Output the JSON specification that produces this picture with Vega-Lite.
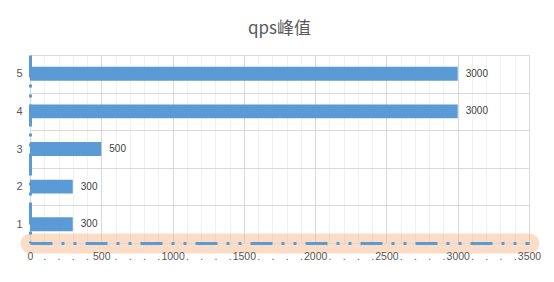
{
  "$schema": "https://vega.github.io/schema/vega-lite/v6.json",
  "width": 499,
  "height": 188,
  "autosize": {"type": "none"},
  "padding": {"left": 30, "top": 55, "right": 25, "bottom": 39},
  "background": "white",
  "title": {"text": "qps峰值", "fontSize": 17, "font": "Noto Sans CJK SC", "fontWeight": "normal", "color": "#595959", "offset": 11, "anchor": "middle"},
  "data": {"values": [
    {"cat": "1", "value": 300},
    {"cat": "2", "value": 300},
    {"cat": "3", "value": 500},
    {"cat": "4", "value": 3000},
    {"cat": "5", "value": 3000}
  ]},
  "config": {"view": {"stroke": null}},
  "layer": [
    {
      "mark": {"type": "bar", "color": "#5b9bd5", "height": {"band": 0.37}},
      "encoding": {
        "y": {"field": "cat", "type": "ordinal", "sort": "descending",
              "scale": {"paddingInner": 0, "paddingOuter": 0},
              "axis": {"title": null, "ticks": false, "tickBand": "extent", "grid": true, "gridColor": "#d9d9d9", "gridWidth": 1,
                       "domain": true, "domainColor": "#5b9bd5", "domainWidth": 3, "domainDash": [22, 7, 3, 7, 3, 7],
                       "labelFont": "Liberation Sans", "labelFontSize": 11, "labelColor": "#595959", "labelPadding": 8, "labelAngle": 0, "zindex": 1}},
        "x": {"field": "value", "type": "quantitative", "scale": {"domain": [0, 3500], "nice": false},
              "axis": {"orient": "bottom", "title": null, "labels": false, "ticks": false,
                       "values": [0,100,200,300,400,500,600,700,800,900,1000,1100,1200,1300,1400,1500,1600,1700,1800,1900,2000,2100,2200,2300,2400,2500,2600,2700,2800,2900,3000,3100,3200,3300,3400,3500],
                       "grid": true,
                       "gridColor": {"condition": {"test": "datum.value % 500 === 0", "value": "#d9d9d9"}, "value": "#f0f0f0"},
                       "domain": true, "domainColor": "#f4b183", "domainOpacity": 0.45, "domainWidth": 20, "domainCap": "round", "zindex": 0}}
      }
    },
    {
      "mark": {"type": "text", "align": "left", "dx": 8, "font": "Liberation Sans", "fontSize": 10, "color": "#404040"},
      "encoding": {
        "y": {"field": "cat", "type": "ordinal", "sort": "descending"},
        "x": {"field": "value", "type": "quantitative",
              "axis": {"orient": "bottom", "title": null, "ticks": false, "grid": false, "format": "d",
                       "values": [0,100,200,300,400,500,600,700,800,900,1000,1100,1200,1300,1400,1500,1600,1700,1800,1900,2000,2100,2200,2300,2400,2500,2600,2700,2800,2900,3000,3100,3200,3300,3400,3500],
                       "labelExpr": "datum.value % 500 === 0 ? datum.label : '.'",
                       "labelOverlap": false, "labelFlush": false,
                       "labelFont": "Liberation Sans", "labelFontSize": 10.5, "labelColor": "#595959", "labelPadding": 8,
                       "domain": true, "domainColor": "#5b9bd5", "domainWidth": 3, "domainDash": [22, 9, 3, 9, 3, 9], "zindex": 1}},
        "text": {"field": "value", "type": "quantitative", "format": "d"}
      }
    }
  ],
  "resolve": {"axis": {"x": "independent"}}
}
